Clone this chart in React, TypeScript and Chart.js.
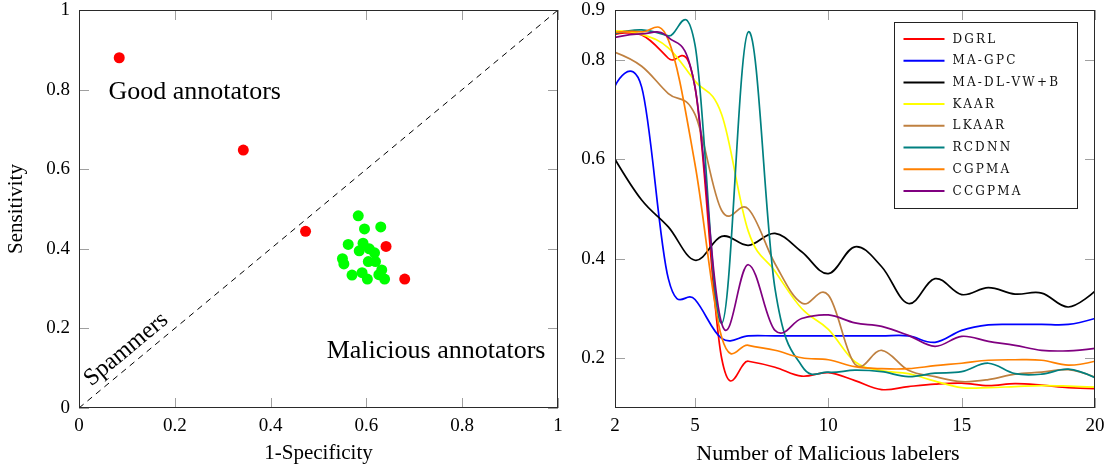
import { useEffect, useRef } from 'react';
import { Chart, registerables } from 'chart.js';

Chart.register(...registerables);

// ---- Left panel: annotator operating points (1-specificity, sensitivity) ----
const RELIABLE_X = [0.084, 0.343, 0.473, 0.641, 0.680];
const RELIABLE_Y = [0.880, 0.648, 0.444, 0.406, 0.324];
const CLUSTER_X = [0.583, 0.596, 0.630, 0.562, 0.593, 0.585, 0.606, 0.617, 0.550, 0.553, 0.604, 0.619, 0.570, 0.591, 0.602, 0.632, 0.626, 0.638];
const CLUSTER_Y = [0.483, 0.450, 0.455, 0.411, 0.414, 0.395, 0.400, 0.390, 0.375, 0.362, 0.368, 0.368, 0.334, 0.340, 0.324, 0.347, 0.335, 0.324];
const CHANCE_X = [0, 1];
const CHANCE_Y = [0, 1];
const ROC_TICKS = [0, 0.2, 0.4, 0.6, 0.8, 1];

// ---- Right panel: score vs. number of malicious labelers ----
const LABELERS = [2, 3, 4, 5, 6, 7, 8, 9, 10, 11, 12, 13, 14, 15, 16, 17, 18, 19, 20];
const DGRL = [0.851, 0.850, 0.803, 0.745, 0.200, 0.194, 0.182, 0.164, 0.171, 0.155, 0.137, 0.143, 0.148, 0.150, 0.145, 0.149, 0.146, 0.141, 0.139];
const MA_GPC = [0.747, 0.745, 0.360, 0.318, 0.240, 0.245, 0.245, 0.245, 0.245, 0.245, 0.245, 0.245, 0.232, 0.256, 0.267, 0.268, 0.268, 0.268, 0.280];
const MA_DL_VWB = [0.600, 0.518, 0.464, 0.397, 0.445, 0.427, 0.451, 0.414, 0.370, 0.424, 0.384, 0.310, 0.360, 0.328, 0.342, 0.329, 0.331, 0.303, 0.335];
const KAAR = [0.858, 0.851, 0.824, 0.757, 0.690, 0.455, 0.375, 0.300, 0.258, 0.193, 0.175, 0.169, 0.154, 0.141, 0.141, 0.143, 0.145, 0.144, 0.142];
const LKAAR = [0.815, 0.787, 0.732, 0.690, 0.497, 0.500, 0.390, 0.311, 0.327, 0.188, 0.216, 0.176, 0.163, 0.153, 0.157, 0.168, 0.172, 0.177, 0.162];
const RCDNN = [0.853, 0.860, 0.848, 0.830, 0.270, 0.856, 0.340, 0.185, 0.172, 0.176, 0.173, 0.163, 0.170, 0.173, 0.190, 0.169, 0.168, 0.178, 0.161];
const CGPMA = [0.855, 0.856, 0.840, 0.590, 0.242, 0.226, 0.216, 0.201, 0.197, 0.183, 0.179, 0.179, 0.185, 0.190, 0.196, 0.197, 0.196, 0.186, 0.194];
const CCGPMA = [0.845, 0.852, 0.845, 0.745, 0.270, 0.388, 0.256, 0.280, 0.287, 0.271, 0.264, 0.246, 0.224, 0.244, 0.234, 0.226, 0.216, 0.215, 0.220];
const METHOD_NAMES = ['DGRL', 'MA-GPC', 'MA-DL-VW+B', 'KAAR', 'LKAAR', 'RCDNN', 'CGPMA', 'CCGPMA'];
const METHOD_VALUES = [DGRL, MA_GPC, MA_DL_VWB, KAAR, LKAAR, RCDNN, CGPMA, CCGPMA];
const METHOD_COLORS = ['#ff0000', '#0000ff', '#000000', '#ffff00', '#bf8040', '#008080', '#ff8000', '#800080'];
const LABELER_TICKS = [2, 5, 10, 15, 20];
const SCORE_TICKS = [0.2, 0.4, 0.6, 0.8, 0.9];
const LABELER_TITLE = 'Number of Malicious labelers';

const SERIF = '"Liberation Serif", "Times New Roman", serif';
const TICK_LEN = 10;

// Inside tick marks on all four sides plus a closed frame around the plot area.
function makeFrame(xTicks: number[], yTicks: number[]) {
  return {
    id: 'frame',
    beforeDatasetsDraw(chart: any) {
      const { ctx, chartArea: a, scales } = chart;
      ctx.save();
      ctx.strokeStyle = '#a0a0a0';
      ctx.lineWidth = 1;
      ctx.beginPath();
      for (const v of xTicks) {
        const px = Math.round(scales.x.getPixelForValue(v)) + 0.5;
        ctx.moveTo(px, a.bottom);
        ctx.lineTo(px, a.bottom - TICK_LEN);
        ctx.moveTo(px, a.top);
        ctx.lineTo(px, a.top + TICK_LEN);
      }
      for (const v of yTicks) {
        const py = Math.round(scales.y.getPixelForValue(v)) + 0.5;
        ctx.moveTo(a.left, py);
        ctx.lineTo(a.left + TICK_LEN, py);
        ctx.moveTo(a.right, py);
        ctx.lineTo(a.right - TICK_LEN, py);
      }
      ctx.stroke();
      ctx.restore();
    },
    afterDatasetsDraw(chart: any) {
      const { ctx, chartArea: a } = chart;
      ctx.save();
      ctx.strokeStyle = '#2a2a2a';
      ctx.lineWidth = 1;
      ctx.strokeRect(Math.round(a.left) + 0.5, Math.round(a.top) + 0.5, Math.round(a.right - a.left) - 1, Math.round(a.bottom - a.top) - 1);
      ctx.restore();
    },
  };
}

// Region captions placed in data coordinates.
const rocNotes = {
  id: 'rocNotes',
  afterDatasetsDraw(chart: any) {
    const { ctx, scales } = chart;
    const sx = scales.x;
    const sy = scales.y;
    const diagAngle = Math.atan2(sy.getPixelForValue(0) - sy.getPixelForValue(1), sx.getPixelForValue(1) - sx.getPixelForValue(0));
    const notes = [
      { text: 'Good annotators', x: 0.0614, y: 0.776, size: 26, align: 'left', rot: 0 },
      { text: 'Malicious annotators', x: 0.517, y: 0.125, size: 26, align: 'left', rot: 0 },
      { text: 'Spammers', x: 0.107, y: 0.135, size: 24, align: 'center', rot: -diagAngle },
    ];
    ctx.save();
    ctx.fillStyle = '#000';
    for (const n of notes) {
      ctx.save();
      ctx.translate(sx.getPixelForValue(n.x), sy.getPixelForValue(n.y));
      ctx.rotate(n.rot);
      ctx.font = `${n.size}px ${SERIF}`;
      ctx.textAlign = n.align;
      ctx.textBaseline = 'alphabetic';
      ctx.fillText(n.text, 0, 0);
      ctx.restore();
    }
    ctx.restore();
  },
};

// Smooth curves with fixed-tension Bezier control points p ± k·(next − prev).
const SMOOTH_K = 0.55 / 3;
const smoothCurves = {
  id: 'smoothCurves',
  beforeDatasetDraw(_chart: any, args: any) {
    const meta = args.meta;
    const line = meta.dataset;
    const pts = meta.data;
    if (!line || !pts || pts.length < 2) return;
    const n = pts.length;
    for (let i = 0; i < n; i++) {
      const p = pts[i];
      const prev = pts[Math.max(0, i - 1)];
      const next = pts[Math.min(n - 1, i + 1)];
      let dx = (next.x - prev.x) * SMOOTH_K;
      let dy = (next.y - prev.y) * SMOOTH_K;
      if (i === 0 || i === n - 1) { dx = 0; dy = 0; }
      p.cp1x = p.x - dx;
      p.cp1y = p.y - dy;
      p.cp2x = p.x + dx;
      p.cp2y = p.y + dy;
    }
    line._pointsUpdated = true;
    line._path = undefined;
  },
};

// Boxed legend inside the upper right of the plot area, and the x-axis caption.
const boxedLegend = {
  id: 'boxedLegend',
  afterDatasetsDraw(chart: any) {
    const { ctx, chartArea: a } = chart;
    const w = 183;
    const h = 186;
    const left = Math.round(a.right - 18 - w) + 0.5;
    const top = Math.round(a.top + 12) + 0.5;
    ctx.save();
    ctx.fillStyle = '#fff';
    ctx.fillRect(left, top, w, h);
    ctx.strokeStyle = '#222';
    ctx.lineWidth = 1;
    ctx.strokeRect(left, top, w, h);
    ctx.font = `12px "DejaVu Serif", serif`;
    (ctx as any).letterSpacing = '2.2px';
    ctx.textAlign = 'left';
    ctx.textBaseline = 'middle';
    chart.data.datasets.forEach((ds: any, i: number) => {
      const cy = top + 16.5 + i * 21.7;
      ctx.strokeStyle = ds.borderColor;
      ctx.lineWidth = 2;
      ctx.beginPath();
      ctx.moveTo(left + 9, cy);
      ctx.lineTo(left + 50, cy);
      ctx.stroke();
      ctx.fillStyle = '#111';
      ctx.fillText(ds.label, left + 58, cy + 0.5);
    });
    ctx.restore();
  },
  afterDraw(chart: any) {
    const { ctx, chartArea: a } = chart;
    ctx.save();
    ctx.fillStyle = '#000';
    ctx.font = `22px ${SERIF}`;
    ctx.textAlign = 'center';
    ctx.textBaseline = 'alphabetic';
    ctx.fillText(LABELER_TITLE, (a.left + a.right) / 2 - 27, 460);
    ctx.restore();
  },
};

const tickFont = { family: SERIF, size: 19 };
const titleFont = { family: SERIF, size: 21 };

function fixY(width: number) {
  return (scale: any) => {
    scale.width = width;
    scale.paddingTop = 0;
    scale.paddingBottom = 0;
  };
}
function fixX(height: number) {
  return (scale: any) => {
    scale.height = height;
    scale.paddingLeft = 0;
    scale.paddingRight = 0;
  };
}

export default function App() {
  const rocRef = useRef<HTMLCanvasElement>(null);
  const accRef = useRef<HTMLCanvasElement>(null);

  useEffect(() => {
    const roc = new Chart(rocRef.current as HTMLCanvasElement, {
      type: 'scatter',
      data: {
        datasets: [
          {
            label: 'reliable',
            data: RELIABLE_X.map((x, i) => ({ x, y: RELIABLE_Y[i] })),
            backgroundColor: '#ff0000',
            borderWidth: 0,
            pointRadius: 5.5,
          },
          {
            label: 'cluster',
            data: CLUSTER_X.map((x, i) => ({ x, y: CLUSTER_Y[i] })),
            backgroundColor: '#00ff00',
            borderWidth: 0,
            pointRadius: 5.5,
          },
          {
            label: 'chance',
            data: CHANCE_X.map((x, i) => ({ x, y: CHANCE_Y[i] })),
            showLine: true,
            borderColor: '#000',
            borderWidth: 1,
            borderDash: [6, 5],
            pointRadius: 0,
            fill: false,
          },
        ],
      } as any,
      options: {
        animation: false,
        responsive: false,
        events: [],
        layout: { padding: { top: 10, right: 12, bottom: 0, left: 0 } },
        plugins: { legend: { display: false }, tooltip: { enabled: false } },
        scales: {
          x: {
            type: 'linear',
            min: 0,
            max: 1,
            afterBuildTicks: (s: any) => { s.ticks = ROC_TICKS.map((v) => ({ value: v })); },
            afterFit: fixX(62),
            grid: { display: false, drawTicks: false },
            border: { display: false },
            ticks: { font: tickFont, color: '#000', padding: 7, callback: (v: any) => String(Number(v)) },
            title: { display: true, text: '1-Specificity', font: titleFont, color: '#000', padding: { top: 0, bottom: 4 } },
          },
          y: {
            type: 'linear',
            min: 0,
            max: 1,
            afterBuildTicks: (s: any) => { s.ticks = ROC_TICKS.map((v) => ({ value: v })); },
            afterFit: fixY(79),
            grid: { display: false, drawTicks: false },
            border: { display: false },
            ticks: { font: tickFont, color: '#000', padding: 9, callback: (v: any) => String(Number(v)) },
            title: { display: true, text: 'Sensitivity', font: titleFont, color: '#000', padding: { top: 4, bottom: 0 } },
          },
        },
      } as any,
      plugins: [makeFrame(ROC_TICKS, ROC_TICKS), rocNotes],
    });

    const acc = new Chart(accRef.current as HTMLCanvasElement, {
      type: 'line',
      data: {
        datasets: METHOD_NAMES.map((name, i) => ({
          label: name,
          data: LABELERS.map((x, j) => ({ x, y: METHOD_VALUES[i][j] })),
          borderColor: METHOD_COLORS[i],
          backgroundColor: METHOD_COLORS[i],
          borderWidth: 1.7,
          pointRadius: 0,
          tension: 0.4,
          fill: false,
          order: -i,
        })),
      } as any,
      options: {
        animation: false,
        responsive: false,
        events: [],
        layout: { padding: { top: 10, right: 13, bottom: 0, left: 0 } },
        plugins: { legend: { display: false }, tooltip: { enabled: false } },
        scales: {
          x: {
            type: 'linear',
            min: 2,
            max: 20,
            afterBuildTicks: (s: any) => { s.ticks = LABELER_TICKS.map((v) => ({ value: v })); },
            afterFit: fixX(62),
            grid: { display: false, drawTicks: false },
            border: { display: false },
            ticks: { font: tickFont, color: '#000', padding: 7, callback: (v: any) => String(Number(v)) },
          },
          y: {
            type: 'linear',
            min: 0.1,
            max: 0.9,
            afterBuildTicks: (s: any) => { s.ticks = SCORE_TICKS.map((v) => ({ value: v })); },
            afterFit: fixY(45),
            grid: { display: false, drawTicks: false },
            border: { display: false },
            ticks: { font: tickFont, color: '#000', padding: 10, callback: (v: any) => String(Number(v)) },
          },
        },
      } as any,
      plugins: [smoothCurves, makeFrame(LABELER_TICKS, SCORE_TICKS), boxedLegend],
    });

    return () => {
      roc.destroy();
      acc.destroy();
    };
  }, []);

  return (
    <div style={{ position: 'fixed', left: 0, top: 0, width: 1108, height: 470, background: '#fff' }}>
      <canvas ref={rocRef} width={570} height={470} style={{ position: 'absolute', left: 0, top: 0 }} />
      <canvas ref={accRef} width={538} height={470} style={{ position: 'absolute', left: 570, top: 0 }} />
    </div>
  );
}
